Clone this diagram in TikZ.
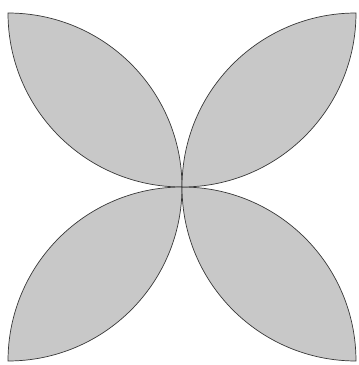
\documentclass[tikz,border=0pt]{standalone}
\usepackage{tikz}
\definecolor{leafgray}{RGB}{200,200,200}
\definecolor{edgegray}{RGB}{55,55,55}

\begin{document}
\begin{tikzpicture}[x=1pt, y=1pt]
          % Frame of the picture
          \useasboundingbox (0,0) rectangle (359,365);
          
          % Four leaves, each made of two quarter-circle arcs
          \foreach \ang in {0,90,180,270}
            \filldraw[rotate around={\ang:(182,178)}, fill=leafgray, draw=edgegray, line width=0.7pt]
              (182,178) arc[start angle=0, end angle=90, radius=174]
              arc[start angle=180, end angle=270, radius=174] -- cycle;
        \end{tikzpicture}
\end{document}
